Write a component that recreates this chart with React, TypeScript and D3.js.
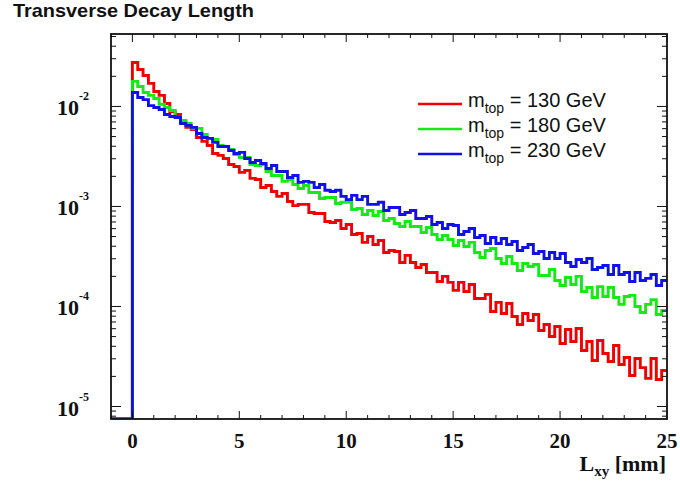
import React from 'react';
import * as d3 from 'd3';

const W = 680;
const H = 484;

// Histogram binning (mm)
const BIN_WIDTH = 0.25;
const X_DOMAIN: [number, number] = [-1, 25];
const Y_DOMAIN: [number, number] = [7.5e-6, 0.053];
const X_MAJOR_TICKS = [0, 5, 10, 15, 20, 25];
const Y_DECADES = [-2, -3, -4, -5];
const TITLE = 'Transverse Decay Length';
const LEGEND_MASSES = ['130 GeV', '180 GeV', '230 GeV'];

// Normalised entries per bin, bins of 0.25 mm starting at L_xy = 0
const red130 = [
  2.75e-2, 2.34e-2, 2.04e-2, 1.70e-2, 1.41e-2, 1.29e-2, 1.07e-2, 8.91e-3, 8.32e-3, 7.08e-3,
  6.17e-3, 5.89e-3, 4.90e-3, 4.47e-3, 4.07e-3, 3.39e-3, 3.24e-3, 3.02e-3, 2.63e-3, 2.51e-3,
  2.19e-3, 2.29e-3, 1.91e-3, 1.86e-3, 1.55e-3, 1.62e-3, 1.41e-3, 1.26e-3, 1.35e-3, 1.12e-3,
  1.02e-3, 1.05e-3, 1.05e-3, 8.71e-4, 8.51e-4, 8.51e-4, 7.08e-4, 6.92e-4, 7.24e-4, 6.03e-4,
  6.61e-4, 5.25e-4, 5.37e-4, 4.37e-4, 5.01e-4, 4.17e-4, 4.57e-4, 3.47e-4, 3.63e-4, 3.55e-4,
  2.75e-4, 3.24e-4, 2.75e-4, 2.45e-4, 2.63e-4, 2.19e-4, 2.19e-4, 1.78e-4, 2.00e-4, 1.74e-4,
  1.45e-4, 1.74e-4, 1.41e-4, 1.66e-4, 1.20e-4, 1.20e-4, 1.32e-4, 8.91e-5, 1.10e-4, 8.51e-5,
  1.07e-4, 7.94e-5, 6.61e-5, 8.51e-5, 7.24e-5, 8.32e-5, 5.75e-5, 6.61e-5, 5.01e-5, 6.31e-5,
  4.27e-5, 5.89e-5, 4.47e-5, 6.03e-5, 3.63e-5, 4.47e-5, 2.88e-5, 4.57e-5, 3.39e-5, 2.82e-5,
  4.07e-5, 2.63e-5, 3.09e-5, 2.04e-5, 3.02e-5, 2.45e-5, 1.91e-5, 3.02e-5, 1.86e-5, 2.29e-5,
];

const green180 = [
  1.78e-2, 1.58e-2, 1.38e-2, 1.29e-2, 1.20e-2, 1.05e-2, 9.77e-3, 9.12e-3, 7.76e-3, 7.24e-3,
  6.76e-3, 6.03e-3, 6.03e-3, 5.25e-3, 4.79e-3, 4.68e-3, 4.07e-3, 3.98e-3, 3.72e-3, 3.31e-3,
  3.09e-3, 3.09e-3, 2.63e-3, 2.57e-3, 2.63e-3, 2.24e-3, 2.04e-3, 2.04e-3, 1.78e-3, 1.86e-3,
  1.66e-3, 1.51e-3, 1.62e-3, 1.38e-3, 1.38e-3, 1.20e-3, 1.23e-3, 1.23e-3, 1.07e-3, 1.10e-3,
  1.10e-3, 9.33e-4, 9.55e-4, 8.32e-4, 9.12e-4, 8.13e-4, 8.91e-4, 7.24e-4, 7.59e-4, 6.76e-4,
  6.31e-4, 7.08e-4, 6.31e-4, 6.31e-4, 5.50e-4, 6.17e-4, 5.25e-4, 4.68e-4, 5.13e-4, 4.68e-4,
  4.07e-4, 4.57e-4, 3.98e-4, 4.37e-4, 3.47e-4, 3.09e-4, 3.63e-4, 3.80e-4, 3.02e-4, 2.69e-4,
  3.16e-4, 2.69e-4, 2.29e-4, 2.69e-4, 2.51e-4, 2.63e-4, 2.04e-4, 2.04e-4, 2.34e-4, 1.82e-4,
  1.62e-4, 1.95e-4, 1.66e-4, 2.00e-4, 1.41e-4, 1.55e-4, 1.23e-4, 1.58e-4, 1.26e-4, 1.55e-4,
  1.23e-4, 1.05e-4, 1.26e-4, 1.29e-4, 1.00e-4, 8.71e-5, 1.05e-4, 1.17e-4, 8.32e-5, 9.12e-5,
];

const blue230 = [
  1.38e-2, 1.23e-2, 1.17e-2, 1.02e-2, 9.77e-3, 9.33e-3, 8.32e-3, 7.94e-3, 7.76e-3, 6.76e-3,
  6.46e-3, 6.17e-3, 5.37e-3, 4.90e-3, 4.79e-3, 4.37e-3, 3.98e-3, 3.98e-3, 3.63e-3, 3.39e-3,
  3.47e-3, 3.02e-3, 2.75e-3, 2.88e-3, 2.69e-3, 2.40e-3, 2.57e-3, 2.24e-3, 2.24e-3, 1.95e-3,
  2.04e-3, 1.74e-3, 1.78e-3, 1.74e-3, 1.55e-3, 1.66e-3, 1.45e-3, 1.41e-3, 1.45e-3, 1.26e-3,
  1.17e-3, 1.29e-3, 1.17e-3, 1.26e-3, 1.05e-3, 1.05e-3, 1.10e-3, 9.12e-4, 9.77e-4, 9.77e-4,
  8.32e-4, 8.71e-4, 9.12e-4, 7.59e-4, 7.59e-4, 7.94e-4, 6.61e-4, 6.92e-4, 6.03e-4, 6.61e-4,
  6.46e-4, 5.25e-4, 5.62e-4, 6.03e-4, 4.90e-4, 5.13e-4, 4.27e-4, 4.90e-4, 4.27e-4, 4.79e-4,
  4.17e-4, 4.47e-4, 3.63e-4, 3.89e-4, 4.17e-4, 3.39e-4, 3.55e-4, 3.02e-4, 3.47e-4, 3.02e-4,
  3.39e-4, 2.75e-4, 2.51e-4, 2.95e-4, 2.75e-4, 3.02e-4, 2.34e-4, 2.45e-4, 2.57e-4, 2.09e-4,
  2.57e-4, 2.09e-4, 2.19e-4, 1.78e-4, 2.19e-4, 1.82e-4, 1.91e-4, 2.09e-4, 1.62e-4, 1.82e-4,
];

const SERIES = [
  { values: red130, color: '#f00000' },
  { values: green180, color: '#14ea14' },
  { values: blue230, color: '#1010e8' },
];

const PLOT = { left: 111, right: 667, top: 34, bottom: 419 };

export default function App() {
  const x = d3.scaleLinear().domain(X_DOMAIN).range([PLOT.left, PLOT.right]);
  const y = d3.scaleLog().domain(Y_DOMAIN).range([PLOT.bottom, PLOT.top]);

  const line = d3
    .line<[number, number]>()
    .x((d) => x(d[0]))
    .y((d) => y(d[1]))
    .curve(d3.curveStepAfter);

  const histPath = (vals: number[]) => {
    const pts: [number, number][] = [[X_DOMAIN[0], Y_DOMAIN[0]]];
    vals.forEach((v, i) => pts.push([i * BIN_WIDTH, v]));
    pts.push([vals.length * BIN_WIDTH, vals[vals.length - 1]]);
    return line(pts) || '';
  };

  const xMinor = d3.range(Math.ceil(X_DOMAIN[0]), X_DOMAIN[1] + 0.001, 1);
  const yMinor: number[] = [];
  for (let e = -6; e <= -1; e++) {
    for (let k = 2; k <= 9; k++) {
      const v = k * Math.pow(10, e);
      if (v >= Y_DOMAIN[0] && v <= Y_DOMAIN[1]) yMinor.push(v);
    }
  }

  const serif = "'Liberation Serif', 'Times New Roman', serif";
  const sans = "'Liberation Sans', Arial, sans-serif";

  return (
    <svg
      width={W}
      height={H}
      viewBox={`0 0 ${W} ${H}`}
      style={{ position: 'absolute', left: 0, top: 0, background: '#fff' }}
    >
      <rect x={0} y={0} width={W} height={H} fill="#fff" />
      <defs>
        <clipPath id="plotclip">
          <rect x={PLOT.left} y={PLOT.top} width={PLOT.right - PLOT.left} height={PLOT.bottom - PLOT.top} />
        </clipPath>
      </defs>

      <text x={13} y={17} fontFamily={sans} fontWeight="bold" fontSize={18.5} fill="#111" textLength={241} lengthAdjust="spacingAndGlyphs">
        {TITLE}
      </text>

      <g clipPath="url(#plotclip)">
        {SERIES.map((s, i) => (
          <path key={i} d={histPath(s.values)} fill="none" stroke={s.color} strokeWidth={2.9} strokeLinejoin="miter" />
        ))}
      </g>

      {/* frame */}
      <rect
        x={PLOT.left}
        y={PLOT.top}
        width={PLOT.right - PLOT.left}
        height={PLOT.bottom - PLOT.top}
        fill="none"
        stroke="#111"
        strokeWidth={1.8}
      />

      {/* x ticks (bottom and top) */}
      {xMinor.map((t) => {
        const len = X_MAJOR_TICKS.includes(t) ? 8 : 4;
        const xx = x(t);
        return (
          <g key={'xt' + t}>
            <line x1={xx} x2={xx} y1={PLOT.bottom} y2={PLOT.bottom - len} stroke="#111" strokeWidth={1} />
            <line x1={xx} x2={xx} y1={PLOT.top} y2={PLOT.top + len} stroke="#111" strokeWidth={1} />
          </g>
        );
      })}
      {X_MAJOR_TICKS.map((t) => (
        <text key={'xl' + t} x={x(t)} y={448} textAnchor="middle" fontFamily={serif} fontWeight="bold" fontSize={21} fill="#111">
          {t}
        </text>
      ))}

      {/* y ticks (left and right) */}
      {Y_DECADES.map((e) => {
        const yy = y(Math.pow(10, e));
        return (
          <g key={'yd' + e}>
            <line x1={PLOT.left} x2={PLOT.left + 10} y1={yy} y2={yy} stroke="#111" strokeWidth={1} />
            <line x1={PLOT.right} x2={PLOT.right - 10} y1={yy} y2={yy} stroke="#111" strokeWidth={1} />
            <text x={79} y={yy + 9} textAnchor="end" fontFamily={serif} fontWeight="bold" fontSize={22} fill="#111">
              10
            </text>
            <text x={79} y={yy - 6} fontFamily={serif} fontWeight="bold" fontSize={12} fill="#111">
              {e}
            </text>
          </g>
        );
      })}
      {yMinor.map((v, i) => {
        const yy = y(v);
        return (
          <g key={'ym' + i}>
            <line x1={PLOT.left} x2={PLOT.left + 5} y1={yy} y2={yy} stroke="#111" strokeWidth={1} />
            <line x1={PLOT.right} x2={PLOT.right - 5} y1={yy} y2={yy} stroke="#111" strokeWidth={1} />
          </g>
        );
      })}

      {/* x axis title */}
      <text x={666} y={471} textAnchor="end" fontFamily={serif} fontWeight="bold" fontSize={22} fill="#111">
        <tspan>L</tspan>
        <tspan fontSize={15} dy={5}>xy</tspan>
        <tspan dy={-5}> [mm]</tspan>
      </text>

      {/* legend */}
      {SERIES.map((s, i) => {
        const ly = 104 + i * 25;
        return (
          <g key={'lg' + i}>
            <line x1={418} x2={462} y1={ly} y2={ly} stroke={s.color} strokeWidth={2.6} />
            <text x={468} y={ly + 3} fontFamily={sans} fontSize={20} fill="#111">
              <tspan>m</tspan>
              <tspan fontSize={14} dy={6}>top</tspan>
              <tspan dy={-6}>{' = ' + LEGEND_MASSES[i]}</tspan>
            </text>
          </g>
        );
      })}
    </svg>
  );
}
